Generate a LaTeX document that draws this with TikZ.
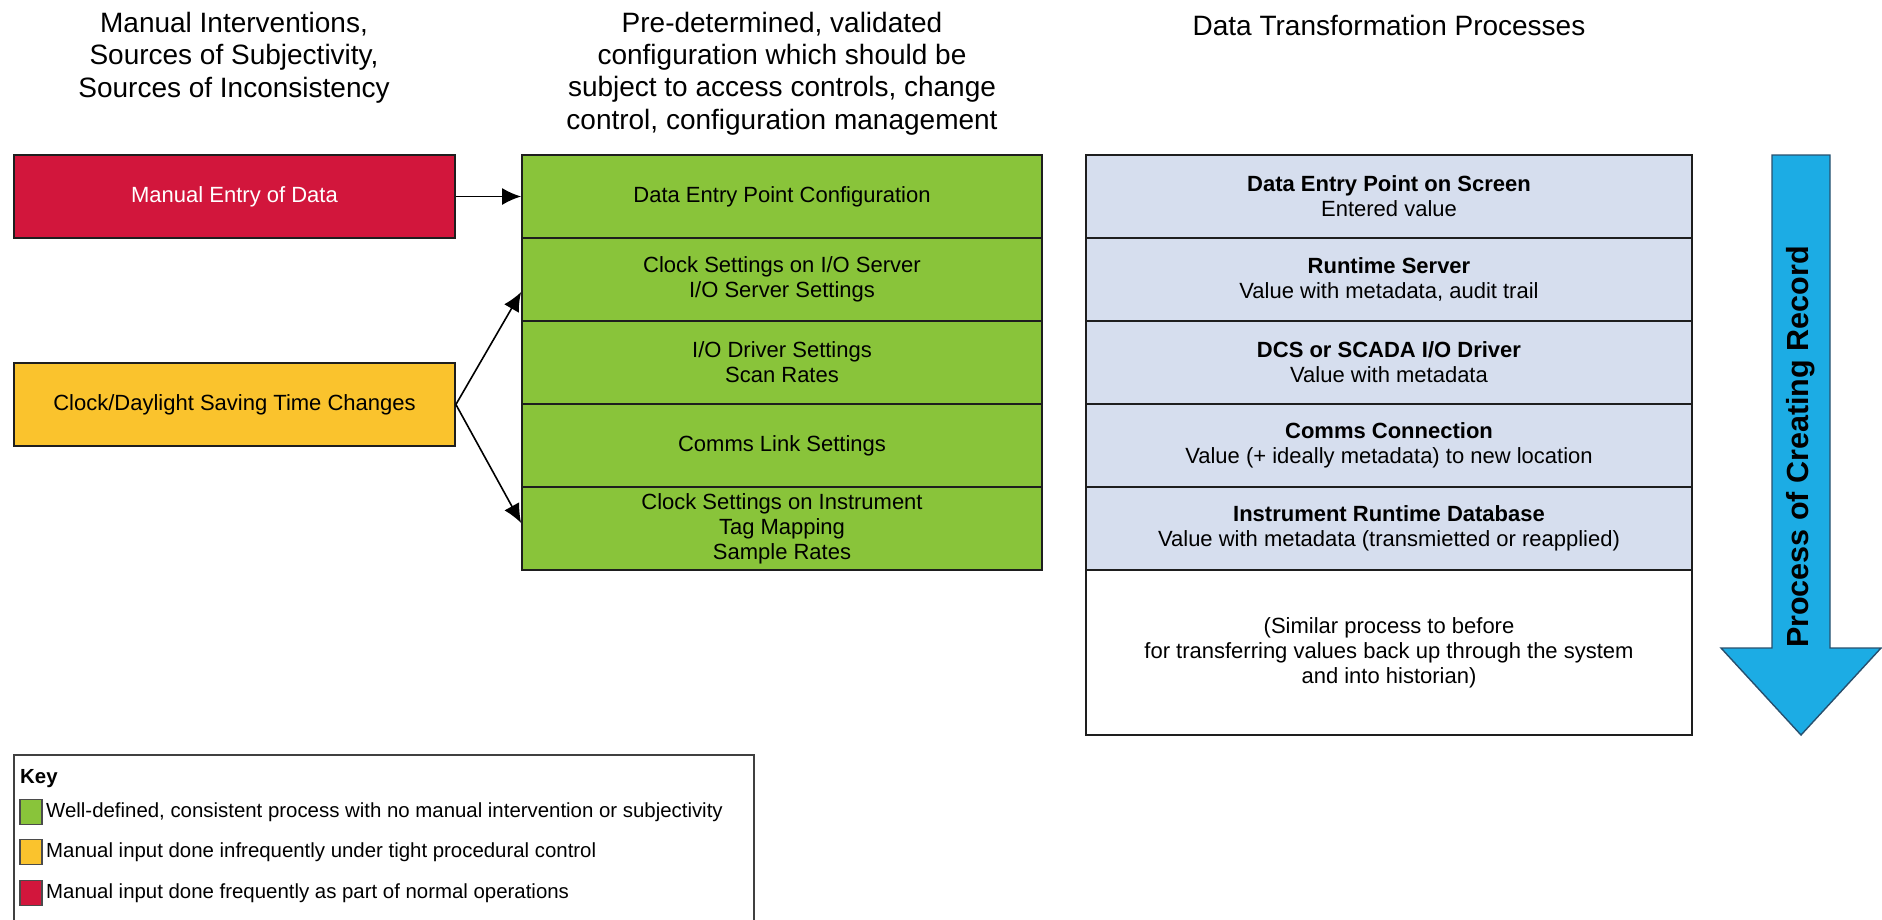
\documentclass[tikz,border=0pt]{standalone}
\usepackage{fontspec}
\setmainfont{Liberation Sans}
\usetikzlibrary{arrows.meta,calc}

\definecolor{manualred}{RGB}{210,22,60}
\definecolor{manualyellow}{RGB}{250,195,45}
\definecolor{cfggreen}{RGB}{137,196,58}
\definecolor{procblue}{RGB}{214,222,238}
\definecolor{flowblue}{RGB}{28,172,228}
\definecolor{flowedge}{RGB}{40,80,110}
\definecolor{edgegray}{RGB}{30,30,30}

\begin{document}
\begin{tikzpicture}[x=1pt,y=-1pt,
  hdr/.style={align=center, inner sep=0pt, font=\fontsize{28}{32.3}\selectfont},
  cellbase/.style={rectangle, draw=edgegray, line width=1.8pt, inner sep=0pt,
    align=center, font=\fontsize{22}{25}\selectfont},
  srcbox/.style={cellbase, minimum width=441pt, minimum height=83pt},
  cfgbox/.style={cellbase, fill=cfggreen, minimum width=520pt, minimum height=83pt},
  procbox/.style={cellbase, fill=procblue, minimum width=606pt, minimum height=83pt},
  arr/.style={line width=1.6pt, draw=black, -{Latex[length=19pt,width=17pt]}},
  keysq/.style={rectangle, draw=edgegray!80, line width=1.4pt, minimum width=22pt,
    minimum height=25pt, inner sep=0pt},
  keytxt/.style={anchor=west, inner sep=0pt, font=\fontsize{20.4}{24}\selectfont}
]
\path[use as bounding box, fill=white] (0,0) rectangle (1882,919);

% column headings
\node[hdr] (h1) at (234,57.5) {Manual Interventions,\\Sources of Subjectivity,\\Sources of Inconsistency};
\node[hdr] (h2) at (782,73.5) {Pre-determined, validated\\configuration which should be\\subject to access controls, change\\control, configuration management};
\node[hdr] (h3) at (1389,25) {Data Transformation Processes};

% manual interventions
\node[srcbox, fill=manualred, text=white] (red) at (234.5,196.5) {Manual Entry of Data};
\node[srcbox, fill=manualyellow] (yel) at (234.5,404.5) {Clock/Daylight Saving Time Changes};

% validated configuration
\node[cfgbox] (g1) at (782,196.5) {Data Entry Point Configuration};
\node[cfgbox] (g2) at (782,279.5) {Clock Settings on I/O Server\\I/O Server Settings};
\node[cfgbox] (g3) at (782,362.5) {I/O Driver Settings\\Scan Rates};
\node[cfgbox] (g4) at (782,445.5) {Comms Link Settings};
\node[cfgbox] (g5) at (782,528.5) {Clock Settings on Instrument\\Tag Mapping\\Sample Rates};

% data transformation processes
\node[procbox] (r1) at (1389,196.5) {\textbf{Data Entry Point on Screen}\\Entered value};
\node[procbox] (r2) at (1389,279.5) {\textbf{Runtime Server}\\Value with metadata, audit trail};
\node[procbox] (r3) at (1389,362.5) {\textbf{DCS or SCADA I/O Driver}\\Value with metadata};
\node[procbox] (r4) at (1389,445.5) {\textbf{Comms Connection}\\Value (+ ideally metadata) to new location};
\node[procbox] (r5) at (1389,528.5) {\textbf{Instrument Runtime Database}\\Value with metadata (transmietted or reapplied)};
\node[cellbase, fill=white, minimum width=606pt, minimum height=165pt] (r6) at (1389,652.5)
  {(Similar process to before\\for transferring values back up through the system\\and into historian)};

% connectors
\draw[arr] (red.east) -- (g1.west);
\draw[arr] (yel.east) -- ($(g2.west)+(0,12.5)$);
\draw[arr] (yel.east) -- ($(g5.west)+(0,-5.5)$);

% process direction arrow
\draw[fill=flowblue, draw=flowedge, line width=1.4pt, line join=miter]
  (1772,155) -- (1830,155) -- (1830,648) -- (1881,648) -- (1801,735)
  -- (1721,648) -- (1772,648) -- cycle;
\node[rotate=90, inner sep=0pt, font=\bfseries\fontsize{30.5}{30.5}\selectfont] (flow) at (1801,447)
  {Process of Creating Record};

% key
\draw[draw=edgegray!85, line width=1.8pt] (14,755) rectangle (754,940);
\node[anchor=west, inner sep=0pt, font=\bfseries\fontsize{20.4}{24}\selectfont] (key) at (20,779) {Key};
\node[keysq, fill=cfggreen] (k1) at (31,812) {};
\node[keysq, fill=manualyellow] (k2) at (31,852) {};
\node[keysq, fill=manualred] (k3) at (31,893) {};
\node[keytxt] (t1) at (46,812) {Well-defined, consistent process with no manual intervention or subjectivity};
\node[keytxt] (t2) at (46,852) {Manual input done infrequently under tight procedural control};
\node[keytxt] (t3) at (46,893) {Manual input done frequently as part of normal operations};
\end{tikzpicture}
\end{document}
